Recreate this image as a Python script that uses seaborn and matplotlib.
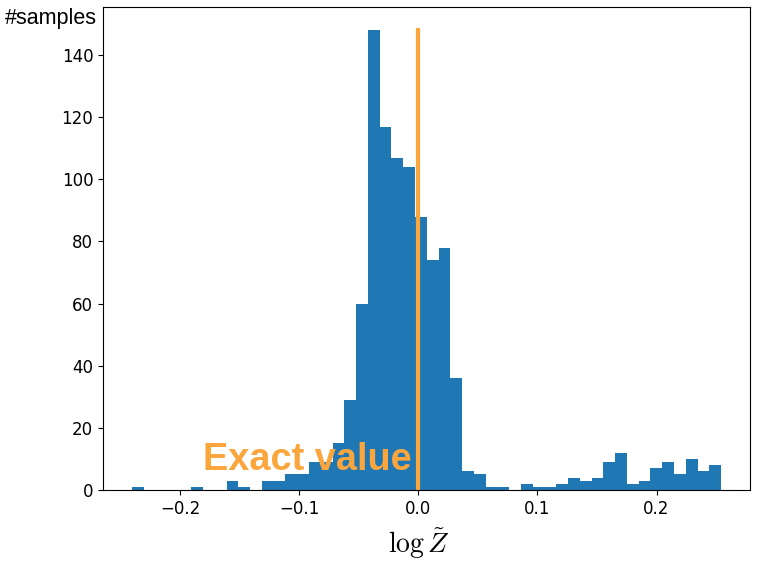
import numpy as np
import pandas as pd
import matplotlib
matplotlib.use("Agg")
import matplotlib.pyplot as plt
import seaborn as sns

# Histogram bin edges (50 equal bins) and counts
bin_start = -0.2401
bin_stop = 0.2542
n_bins = 50
counts = [1, 0, 0, 0, 0, 1, 0, 0, 3, 1,
          0, 3, 3, 5, 5, 9, 9, 15, 29, 60,
          148, 117, 107, 104, 88, 74, 78, 36, 6, 5,
          1, 1, 0, 2, 1, 1, 2, 4, 3, 4,
          9, 12, 2, 3, 7, 9, 5, 10, 6, 8]
exact_value = 0.0
x_label = r"$\log\tilde{Z}$"
y_label = "#samples"
annot_text = "Exact value"

edges = np.linspace(bin_start, bin_stop, n_bins + 1)
centers = (edges[:-1] + edges[1:]) / 2
df = pd.DataFrame({"logZ": centers, "count": counts})

plt.rcParams["mathtext.fontset"] = "cm"
fig = plt.figure(figsize=(7.59, 5.64), dpi=100)
ax = fig.add_subplot(111)
fig.subplots_adjust(left=0.1357, right=0.9888, bottom=0.1312, top=0.9872)

sns.histplot(data=df, x="logZ", weights="count", bins=list(edges), ax=ax,
             color="#1f77b4", alpha=1.0, edgecolor="none", linewidth=0)

orange = "#fba53d"
ax.plot([exact_value, exact_value], [0, max(counts)], color=orange, lw=3)
ax.text(exact_value - 0.006, 6.4, annot_text, color=orange, fontsize=27.3,
        fontweight="bold", family="Liberation Sans", ha="right", va="baseline")

ax.tick_params(labelsize=12)
ax.set_xlabel(x_label, fontsize=20)
ax.xaxis.set_label_coords(0.487, -0.076)
ax.set_ylabel(y_label, rotation=0, fontsize=15.5, family="Liberation Sans",
              ha="right", va="center")
ax.yaxis.set_label_coords(-0.0097, 0.9776)

fig.savefig("out.png", dpi=100)
